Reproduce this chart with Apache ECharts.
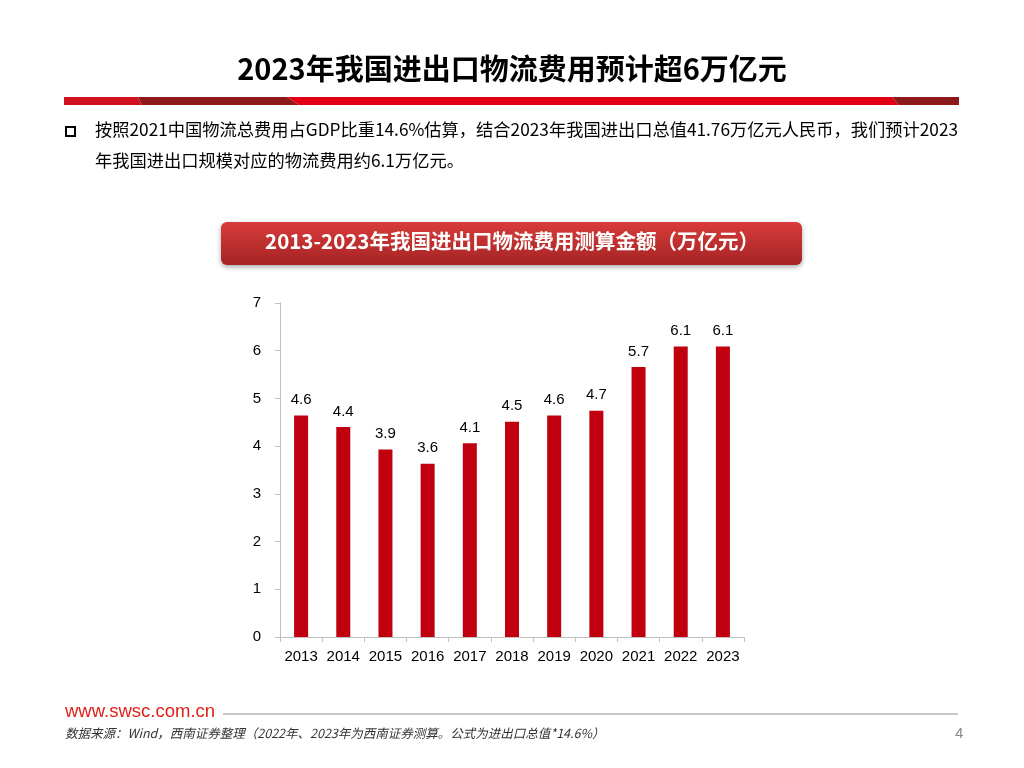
<!DOCTYPE html>
<html>
<head>
<meta charset="utf-8">
<script src="https://cdn.jsdelivr.net/npm/echarts@6/dist/echarts.min.js"></script>
<style>
html,body{margin:0;padding:0;background:#fff;}
#main{width:1024px;height:768px;}
</style>
</head>
<body>
<div id="main"></div>
<script>
// ---- data ----
var years = ['2013','2014','2015','2016','2017','2018','2019','2020','2021','2022','2023'];
var costs = [4.64, 4.40, 3.93, 3.63, 4.06, 4.51, 4.64, 4.74, 5.66, 6.09, 6.09];
var yTicks = [0, 1, 2, 3, 4, 5, 6, 7];
var pageTitle = '2023年我国进出口物流费用预计超6万亿元';
var bodyLine1 = '按照2021中国物流总费用占GDP比重14.6%估算，结合2023年我国进出口总值41.76万亿元人民币，我们预计2023';
var bodyLine2 = '年我国进出口规模对应的物流费用约6.1万亿元。';
var chartTitle = '2013-2023年我国进出口物流费用测算金额（万亿元）';
var siteText = 'www.swsc.com.cn';
var sourceText = '数据来源：Wind，西南证券整理（2022年、2023年为西南证券测算。公式为进出口总值*14.6%）';
var pageNo = '4';

var chart = echarts.init(document.getElementById('main'));
var cjk = '"Noto Sans CJK SC", "Microsoft YaHei", sans-serif';

var option = {
  backgroundColor: '#ffffff',
  animation: false,
  grid: { left: 280, right: 280, top: 303, bottom: 131, containLabel: false },
  xAxis: {
    type: 'category',
    data: years,
    axisLine: { show: true, lineStyle: { color: '#bfbfbf', width: 1 } },
    axisTick: { show: true, length: 5, lineStyle: { color: '#bfbfbf' } },
    axisLabel: { color: '#000', fontSize: 15, fontFamily: 'Liberation Sans, Arial', margin: 12, interval: 0 },
    splitLine: { show: false }
  },
  yAxis: {
    type: 'value',
    min: yTicks[0],
    max: yTicks[yTicks.length - 1],
    interval: 1,
    axisLine: { show: true, lineStyle: { color: '#bfbfbf', width: 1 } },
    axisTick: { show: true, length: 5, lineStyle: { color: '#bfbfbf' } },
    axisLabel: { color: '#000', fontSize: 15, fontFamily: 'Liberation Sans, Arial', margin: 19 },
    splitLine: { show: false }
  },
  series: [{
    type: 'bar',
    data: costs,
    barWidth: 14,
    itemStyle: { color: '#c0000f' },
    label: {
      show: true,
      position: 'top',
      distance: 8,
      color: '#000',
      fontSize: 15,
      fontFamily: 'Liberation Sans, Arial',
      formatter: function (p) { return p.value.toFixed(1); }
    }
  }],
  graphic: [
    // page title
    { type: 'text', left: 'center', top: 54, style: { text: pageTitle, font: 'bold 29px ' + cjk, fill: '#000' } },
    // red header strip
    { type: 'polygon', shape: { points: [[64,97],[138,97],[142,105],[64,105]] }, style: { fill: '#d0121e' } },
    { type: 'polygon', shape: { points: [[138,97],[287,97],[299,105],[142,105]] }, style: { fill: '#8c1a1a' } },
    { type: 'polygon', shape: { points: [[287,97],[892,97],[899,105],[299,105]] }, style: { fill: '#e10014' } },
    { type: 'polygon', shape: { points: [[892,97],[959,97],[959,105],[899,105]] }, style: { fill: '#8c1a1a' } },
    // bullet
    { type: 'rect', shape: { x: 66, y: 127, width: 9, height: 9 }, style: { fill: 'none', stroke: '#000', lineWidth: 2 } },
    { type: 'text', left: 95, top: 121, style: { text: bodyLine1, font: '17.25px ' + cjk, fill: '#000' } },
    { type: 'text', left: 95, top: 152, style: { text: bodyLine2, font: '17.25px ' + cjk, fill: '#000' } },
    // chart title banner
    { type: 'rect', shape: { x: 221, y: 222, width: 581, height: 43, r: 6 },
      style: {
        fill: new echarts.graphic.LinearGradient(0, 0, 0, 1, [
          { offset: 0, color: '#d93b3b' }, { offset: 1, color: '#a42424' }
        ]),
        shadowBlur: 5, shadowColor: 'rgba(0,0,0,0.35)', shadowOffsetY: 2
      } },
    { type: 'text', left: 'center', top: 231, style: { text: chartTitle, font: 'bold 20.5px ' + cjk, fill: '#fff' } },
    // footer
    { type: 'text', left: 65, top: 702, style: { text: siteText, font: '18.5px "Liberation Sans", Arial', fill: '#e0201c' } },
    { type: 'line', shape: { x1: 223, y1: 714, x2: 958, y2: 714 }, style: { stroke: '#c8c8c8', lineWidth: 2 } },
    { type: 'text', left: 65, top: 727, style: { text: sourceText, font: 'italic 12.5px ' + cjk, fill: '#333' } },
    { type: 'text', left: 955, top: 726, style: { text: pageNo, font: '15px "Liberation Sans", Arial', fill: '#888' } }
  ]
};
chart.setOption(option);
</script>
</body>
</html>
